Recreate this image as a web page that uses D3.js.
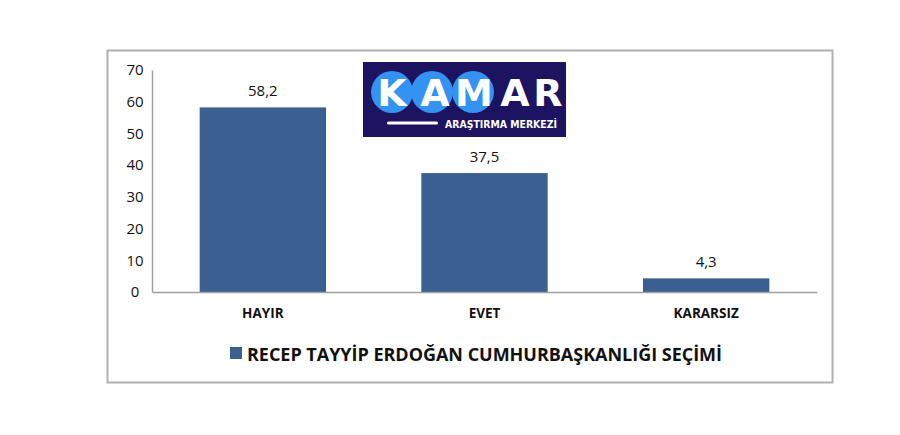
<!DOCTYPE html>
<html><head><meta charset="utf-8">
<script src="https://cdn.jsdelivr.net/npm/d3@7"></script>
<style>body{margin:0;background:#fff}svg{display:block}</style>
</head><body>
<svg id="c" width="900" height="435"></svg>
<script>
const categories = ["HAYIR", "EVET", "KARARSIZ"];
const values = [58.2, 37.5, 4.3];
const valueLabels = ["58,2", "37,5", "4,3"];
const yTicks = [0, 10, 20, 30, 40, 50, 60, 70];
const seriesName = "RECEP TAYYİP ERDOĞAN CUMHURBAŞKANLIĞI SEÇİMİ";
const logoLetters = ["K", "A", "M", "A", "R"];

const svg = d3.select("#c");
const font = "'Open Sans', 'Liberation Sans', sans-serif";
const barColor = "#3a6091";

// outer frame
svg.append("rect").attr("x", 107.5).attr("y", 50.5).attr("width", 725).attr("height", 332)
  .attr("fill", "#fff").attr("stroke", "#b0b0b0").attr("stroke-width", 2);

const x = d3.scaleBand().domain(categories).range([152, 817]).paddingInner(0.43).paddingOuter(0.215);
const y = d3.scaleLinear().domain([0, 70]).range([292, 70]);

// bars
svg.selectAll(".bar").data(values).enter().append("rect")
  .attr("x", (d, i) => x(categories[i])).attr("width", x.bandwidth())
  .attr("y", d => y(d)).attr("height", d => y(0) - y(d)).attr("fill", barColor);

// value labels
svg.selectAll(".vl").data(values).enter().append("text")
  .attr("x", (d, i) => x(categories[i]) + x.bandwidth() / 2)
  .attr("y", d => y(d) - 11).attr("text-anchor", "middle")
  .attr("font-family", font).attr("font-size", 15).attr("fill", "#111")
  .text((d, i) => valueLabels[i]);

// y axis
const yAxis = d3.axisLeft(y).tickValues(yTicks).tickSize(0).tickPadding(14).tickFormat(d3.format("d"));
const ga = svg.append("g").attr("transform", "translate(152,0)").call(yAxis);
ga.select(".domain").attr("stroke", "#a0a0a0").attr("stroke-width", 1.5);
ga.selectAll("text").attr("font-family", font).attr("font-size", 15).attr("fill", "#111").attr("text-anchor", "middle").attr("dx", -3);

// x axis
const xAxis = d3.axisBottom(x).tickSize(0).tickPadding(16);
const gx = svg.append("g").attr("transform", "translate(0,292)").call(xAxis);
gx.select(".domain").attr("stroke", "#a0a0a0").attr("stroke-width", 1.5);
gx.selectAll("text").attr("font-family", font).attr("font-size", 13.5).attr("font-weight", "bold").attr("fill", "#111");

// legend
svg.append("rect").attr("x", 230).attr("y", 347).attr("width", 12).attr("height", 12).attr("fill", barColor);
svg.append("text").attr("x", 247).attr("y", 361).attr("font-family", font).attr("font-size", 18)
  .attr("font-weight", "bold").attr("fill", "#111").attr("textLength", 475).text(seriesName);

// logo
const logo = svg.append("g");
logo.append("rect").attr("x", 363).attr("y", 62).attr("width", 203).attr("height", 75).attr("fill", "#1c1460");
[392, 432, 473].forEach(cx => logo.append("circle").attr("cx", cx).attr("cy", 92).attr("r", 21).attr("fill", "#3392f2"));
const lx = [392, 435, 474, 515, 548];
logoLetters.forEach((l, i) => logo.append("text").attr("x", lx[i]).attr("y", 105.5).attr("text-anchor", "middle")
  .attr("font-family", "'DejaVu Sans', sans-serif").attr("font-weight", "bold").attr("font-size", 38).attr("fill", "#fff").text(l));
logo.append("rect").attr("x", 387).attr("y", 121.5).attr("width", 51).attr("height", 3).attr("rx", 1.5).attr("fill", "#fff");
logo.append("text").attr("x", 445).attr("y", 127.5).attr("font-family", "'DejaVu Sans', sans-serif").attr("font-weight", "bold")
  .attr("font-size", 10).attr("fill", "#fff").attr("textLength", 112).attr("lengthAdjust", "spacingAndGlyphs").text("ARAŞTIRMA MERKEZİ");
</script>
</body></html>
